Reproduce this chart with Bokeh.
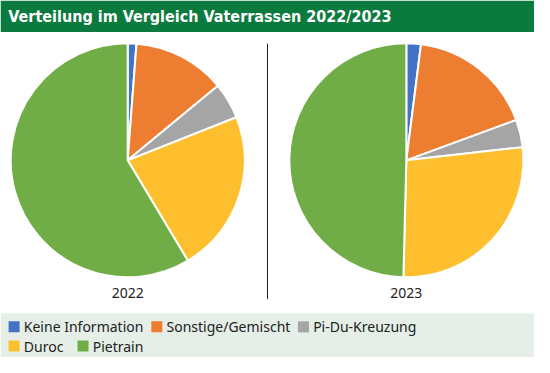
import numpy as np
from bokeh.plotting import figure
from bokeh.models import Range1d, ColumnDataSource
from bokeh.core.properties import value
from bokeh.embed import file_html
from bokeh.resources import INLINE

title = "Verteilung im Vergleich Vaterrassen 2022/2023"
categories = ["Keine Information", "Sonstige/Gemischt", "Pi-Du-Kreuzung", "Duroc", "Pietrain"]
colors = ["#4472c4", "#ed7d31", "#a5a5a5", "#fdbf2d", "#70ad47"]
years = ["2022", "2023"]
values_2022 = [1.2, 12.8, 5.0, 22.4, 58.6]
values_2023 = [2.0, 17.4, 3.8, 27.2, 49.6]

W, H = 550, 373
p = figure(width=534, height=357, x_range=Range1d(0, W), y_range=Range1d(0, H),
           output_backend="svg", toolbar_location=None, min_border=0)
p.axis.visible = False
p.grid.visible = False
p.outline_line_color = None
p.background_fill_color = "white"

def Y(y):
    return H - y

FONT = "Noto Sans"
TITLE_FONT = "'DejaVu Sans Condensed', 'Roboto Condensed', Roboto, sans-serif"

# title bar
p.quad(left=0, right=W, bottom=Y(33), top=Y(0), color="#0b7a3e", line_color=None)
p.text(x=[8], y=[Y(17)], text=[title], text_color="white", text_font=value(TITLE_FONT),
       text_font_style="bold", text_font_size="16px", text_baseline="middle", text_align="left")

# legend background
p.quad(left=0, right=W, bottom=Y(H), top=Y(327), color="#e5eee7", line_color=None)

# pies
centers = [(131, 167), (418, 167)]
for (cx, cy), vals, yr in zip(centers, [values_2022, values_2023], years):
    v = np.array(vals, dtype=float)
    frac = v / v.sum()
    cum = np.concatenate([[0], np.cumsum(frac)])
    start = np.pi / 2 - 2 * np.pi * cum[:-1]
    end = np.pi / 2 - 2 * np.pi * cum[1:]
    src = ColumnDataSource(dict(start=start, end=end, color=colors))
    p.wedge(x=cx, y=Y(cy), radius=117, radius_units="screen", start_angle="start",
            end_angle="end", direction="clock", fill_color="color", line_color="white",
            line_width=2, source=src)
    p.text(x=[cx], y=[Y(306)], text=[yr], text_font=value(FONT), text_font_size="14px",
           text_align="center", text_baseline="middle", text_color="#222222")

# divider
p.segment(x0=[275], y0=[Y(45)], x1=[275], y1=[Y(312)], line_color="#222222", line_width=1)

# legend
leg_x = [8, 155, 306, 8, 79]
leg_y = [341, 341, 341, 361, 361]
p.rect(x=[x + 6 for x in leg_x], y=[Y(y) for y in leg_y], width=11, height=11,
       width_units="screen", height_units="screen", fill_color=colors, line_color=None)
p.text(x=[x + 16 for x in leg_x], y=[Y(y) for y in leg_y], text=categories,
       text_font=value(FONT), text_font_size="14px", text_baseline="middle",
       text_align="left", text_color="#222222")

open("out.html", "w").write(file_html(p, INLINE))
